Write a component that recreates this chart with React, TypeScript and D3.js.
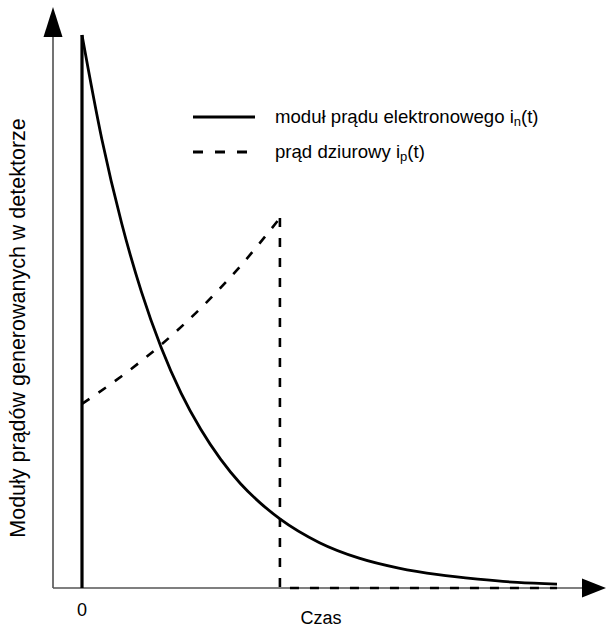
import React from "react";
import * as d3 from "d3";

// Time in units of the hole transit time (the hole pulse ends at t = 1)
const electronTime = [0, 0.1, 0.2, 0.3, 0.4, 0.5, 0.6, 0.7, 0.8, 0.9, 1.0, 1.2, 1.4, 1.6, 1.8, 2.0, 2.2, 2.4];
// Electron current modulus, % of its peak value
const electronCurrent = [100, 81.2, 66.0, 53.6, 43.5, 35.3, 28.7, 23.3, 18.9, 15.4, 12.5, 8.2, 5.4, 3.6, 2.4, 1.6, 1.0, 0.7];

const holeTime = [0, 0.2, 0.4, 0.6, 0.8, 1.0];
const holeCurrent = [33.3, 38.3, 44.0, 50.6, 58.2, 66.9];
const holeEnd = 2.4;

const legendLabels = [
  { main: "moduł prądu elektronowego i", sub: "n", tail: "(t)", dashed: false },
  { main: "prąd dziurowy i", sub: "p", tail: "(t)", dashed: true },
];
const zeroLabel = "0";
const xTitle = "Czas";
const yTitle = "Moduły prądów generowanych w detektorze";

const W = 606;
const H = 628;
const FONT = "'Liberation Sans', Arial, sans-serif";

export default function App() {
  const x = d3.scaleLinear().domain([0, 2.4]).range([82, 557]);
  const y = d3.scaleLinear().domain([0, 100]).range([588, 35]);

  const axisX0 = 53;
  const axisY0 = 588;
  const arrowTipX = 606;
  const arrowTipY = 7;
  const arrowLen = 24;
  const arrowHalf = 9.5;

  const smooth = d3
    .line<[number, number]>()
    .x((d) => x(d[0]))
    .y((d) => y(d[1]))
    .curve(d3.curveMonotoneX);
  const straight = d3
    .line<[number, number]>()
    .x((d) => x(d[0]))
    .y((d) => y(d[1]));

  const electronPts = electronTime.map((t, i) => [t, electronCurrent[i]] as [number, number]);
  const holePts = holeTime.map((t, i) => [t, holeCurrent[i]] as [number, number]);
  const tHoleStop = holeTime[holeTime.length - 1];
  const holeDrop: [number, number][] = [
    [tHoleStop, holeCurrent[holeCurrent.length - 1]],
    [tHoleStop, 0],
    [holeEnd, 0],
  ];

  const dash = "9 11";

  return (
    <div style={{ position: "absolute", left: 0, top: 0 }}>
      <svg width={W} height={H} style={{ display: "block", background: "#fff" }}>
        {/* axes */}
        <line x1={axisX0} y1={axisY0} x2={axisX0} y2={arrowTipY + arrowLen} stroke="#444" strokeWidth={1.5} />
        <path
          d={`M${axisX0},${arrowTipY} L${axisX0 - arrowHalf},${arrowTipY + arrowLen + 6} L${axisX0 + arrowHalf},${arrowTipY + arrowLen + 6} Z`}
          fill="#000"
        />
        <line x1={axisX0} y1={axisY0} x2={arrowTipX - arrowLen} y2={axisY0} stroke="#555" strokeWidth={1.5} />
        <path
          d={`M${arrowTipX},${axisY0} L${arrowTipX - arrowLen},${axisY0 - arrowHalf} L${arrowTipX - arrowLen},${axisY0 + arrowHalf} Z`}
          fill="#000"
        />

        {/* hole current */}
        <path d={smooth(holePts) || ""} fill="none" stroke="#000" strokeWidth={2.6} strokeDasharray={dash} />
        <path d={straight(holeDrop) || ""} fill="none" stroke="#000" strokeWidth={2.6} strokeDasharray={dash} />

        {/* electron current */}
        <path
          d={straight([[0, 0], [0, electronCurrent[0]]]) || ""}
          fill="none"
          stroke="#000"
          strokeWidth={3.2}
        />
        <path d={smooth(electronPts) || ""} fill="none" stroke="#000" strokeWidth={2.8} />

        {/* legend */}
        {legendLabels.map((l, i) => {
          const ly = 117 + i * 35;
          return (
            <g key={i}>
              <line
                x1={193}
                x2={255}
                y1={ly}
                y2={ly}
                stroke="#000"
                strokeWidth={2.8}
                strokeDasharray={l.dashed ? "10 12" : undefined}
              />
              <text x={275} y={ly + 6} fontFamily={FONT} fontSize={18.6} fill="#000">
                {l.main}
                <tspan fontSize={13} dy={3}>{l.sub}</tspan>
                <tspan dy={-3}>{l.tail}</tspan>
              </text>
            </g>
          );
        })}

        {/* labels */}
        <text x={x(0)} y={616} textAnchor="middle" fontFamily={FONT} fontSize={18} fill="#000">
          {zeroLabel}
        </text>
        <text x={321} y={624} textAnchor="middle" fontFamily={FONT} fontSize={18} fill="#000">
          {xTitle}
        </text>
        <text
          transform={`translate(25,328) rotate(-90)`}
          textAnchor="middle"
          fontFamily={FONT}
          fontSize={21.5}
          fill="#000"
        >
          {yTitle}
        </text>
      </svg>
    </div>
  );
}
